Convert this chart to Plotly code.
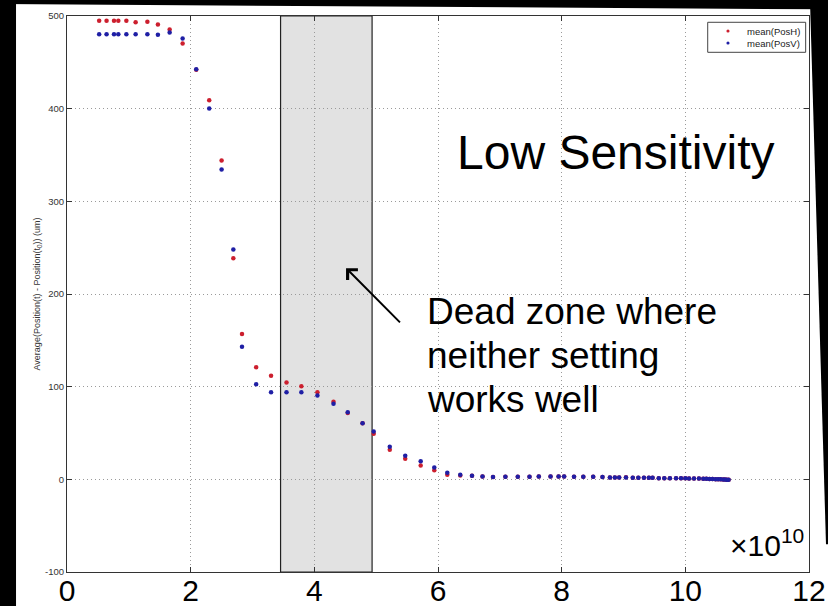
import plotly.graph_objects as go

# x positions in units of 1e10 (axis shows x10^10)
x_vals = [0.52, 0.64, 0.76, 0.83, 0.96, 1.11, 1.30, 1.47, 1.66, 1.87,
          2.09, 2.30, 2.50, 2.69, 2.83, 3.06, 3.30, 3.55, 3.79, 4.05,
          4.31, 4.54, 4.78, 4.96, 5.22, 5.47, 5.72, 5.94, 6.15, 6.36,
          6.55, 6.72, 6.89, 7.09, 7.29, 7.48, 7.63, 7.82, 7.95, 8.04,
          8.20, 8.35, 8.51, 8.66, 8.78, 8.86, 8.93, 9.04, 9.15, 9.24,
          9.33, 9.41, 9.47, 9.57, 9.66, 9.75, 9.85, 9.93, 10.00, 10.06,
          10.14, 10.22, 10.29, 10.34, 10.39, 10.44, 10.49, 10.53, 10.57, 10.61,
          10.64, 10.67, 10.70]

pos_h = [495, 495, 495, 495, 495, 493.3, 493.7, 490.8, 485.4, 470.3,
         441.9, 409.2, 344, 238.7, 156.7, 121, 111.7, 104.5, 100.5, 94.1,
         83.6, 71.5, 60.6, 49.1, 31.8, 22.1, 14.9, 9.9, 4.9, 4.1,
         3.8, 3.0, 2.4, 2.7, 2.7, 2.7, 3.0, 3.0, 3.0, 3.0,
         2.7, 2.7, 2.7, 2.4, 2.0, 2.0, 2.0, 2.2, 1.6, 1.6,
         1.6, 1.6, 1.6, 1.2, 1.2, 1.2, 1.2, 1.2, 1.2, 1.0,
         0.8, 0.8, 0.6, 0.5, 0.4, 0.3, 0.2, 0.1, 0.0, -0.2,
         -0.3, -0.4, -0.5]

pos_v = [480.4, 480.4, 480.4, 480.4, 480.4, 480.4, 480.4, 479.7, 482.2, 475.7,
         442.6, 400.1, 334.3, 248, 143, 102.7, 94.1, 94.1, 94.1, 90.4,
         81.5, 72.5, 60.6, 51.6, 35.1, 25.4, 19.6, 12.7, 7.0, 4.9,
         3.8, 3.0, 2.4, 2.7, 2.7, 2.7, 3.0, 3.0, 3.0, 3.0,
         2.7, 2.7, 2.7, 2.4, 2.0, 2.0, 2.0, 1.9, 1.6, 1.6,
         1.6, 1.6, 1.6, 1.2, 1.2, 1.2, 1.2, 1.2, 1.2, 1.0,
         0.8, 0.8, 0.6, 0.5, 0.4, 0.3, 0.2, 0.1, 0.0, -0.2,
         -0.3, -0.4, -0.5]

series_names = ["mean(PosH)", "mean(PosV)"]
series_colors = ["#cc1f2e", "#1f1fa5"]
dead_zone = [3.454, 4.934]
x_ticks = [0, 2, 4, 6, 8, 10, 12]
y_ticks = [-100, 0, 100, 200, 300, 400, 500]
dead_zone_lines = ["Dead zone where", "neither setting", "works well"]

FONT = "Liberation Sans, Arial, sans-serif"

fig = go.Figure()
for name, ys, col in zip(series_names, [pos_h, pos_v], series_colors):
    fig.add_trace(go.Scatter(x=x_vals, y=ys, mode="markers", name=name,
                             showlegend=False,
                             marker=dict(color=col, size=4.5, symbol="circle")))

# dead zone rectangle
fig.add_shape(type="rect", xref="x", yref="paper", x0=dead_zone[0], x1=dead_zone[1],
              y0=0, y1=1, fillcolor="#e2e2e2", line=dict(color="#222", width=1.2),
              layer="below")

# black frame strips of the slide photo
fig.add_shape(type="path", xref="paper", yref="paper",
              path="M -0.0903,1.0288 L 1.0256,1.0288 L 1.0256,1.012 L -0.0903,1.0216 Z",
              fillcolor="black", line=dict(width=0), layer="above")
fig.add_shape(type="rect", xref="paper", yref="paper", x0=-0.0903, x1=-0.0687,
              y0=-0.0612, y1=1.0288, fillcolor="black", line=dict(width=0), layer="above")
fig.add_shape(type="path", xref="paper", yref="paper",
              path="M 1.0013,1.0288 L 1.0256,1.0288 L 1.0256,0.05 L 1.0229,0.05 Z",
              fillcolor="black", line=dict(width=0), layer="above")

# custom compact legend (MATLAB style)
fig.add_shape(type="rect", xref="paper", yref="paper", x0=0.8635, x1=0.9955,
              y0=0.9347, y1=0.9887, fillcolor="white", line=dict(color="#444", width=1),
              layer="above")
legend_y = [0.9730, 0.9514]
for name, col, ly in zip(series_names, series_colors, legend_y):
    fig.add_shape(type="circle", xref="paper", yref="paper",
                  x0=0.8908 - 0.0021, x1=0.8908 + 0.0021,
                  y0=ly - 0.0028, y1=ly + 0.0028,
                  fillcolor=col, line=dict(width=0), layer="above")
    fig.add_annotation(text=name, xref="paper", yref="paper", x=0.914, y=ly,
                       xanchor="left", yanchor="middle", showarrow=False,
                       font=dict(family=FONT, size=9.5, color="#222"))

axis_common = dict(showline=True, linecolor="#333", linewidth=1, mirror="ticks",
                   ticks="inside", ticklen=5, tickcolor="#333",
                   showgrid=True, gridcolor="#9a9a9a", griddash="1px,3px", gridwidth=1,
                   zeroline=False, automargin=False)

fig.update_xaxes(range=[0, 12], tickmode="array", tickvals=x_ticks,
                 ticktext=[str(t) for t in x_ticks], ticklabelstandoff=-8,
                 tickfont=dict(family=FONT, size=30, color="black"), **axis_common)
fig.update_yaxes(range=[-100, 500], tickmode="array", tickvals=y_ticks,
                 ticktext=[str(t) for t in y_ticks],
                 tickfont=dict(family=FONT, size=9.5, color="#333"), **axis_common)

fig.add_annotation(text="Average(Position(t) - Position(t<sub>0</sub>)) (um)",
                   xref="paper", yref="paper", x=-0.0499, y=0.5, textangle=-90,
                   showarrow=False, font=dict(family=FONT, size=9, color="#333"))

fig.add_annotation(text="×10<sup>10</sup>", xref="paper", yref="paper",
                   x=0.996, y=0.014, xanchor="right", yanchor="bottom",
                   showarrow=False, font=dict(family=FONT, size=30, color="black"))

fig.add_annotation(text="Low Sensitivity", xref="x", yref="y", x=8.87, y=353,
                   showarrow=False, font=dict(family=FONT, size=48, color="black"))

for line, ly in zip(dead_zone_lines, [180.7, 133.3, 85.8]):
    fig.add_annotation(text=line, xref="x", yref="y", x=5.79, y=ly,
                       xanchor="left", align="left", showarrow=False,
                       font=dict(family=FONT, size=37, color="black"))

fig.add_annotation(text="", xref="x", yref="y", x=4.513, y=227.9,
                   axref="x", ayref="y", ax=5.409, ay=167.8,
                   showarrow=True, arrowhead=4, arrowsize=1.4, arrowwidth=2,
                   arrowcolor="black")

fig.update_layout(
    width=828, height=606,
    margin=dict(l=67, r=19, t=16, b=34, autoexpand=False),
    paper_bgcolor="white", plot_bgcolor="white",
    font=dict(family=FONT),
    showlegend=False,
)

fig.write_html("out.html", config={"displayModeBar": False},
               post_script="document.body.style.margin='0px';")
